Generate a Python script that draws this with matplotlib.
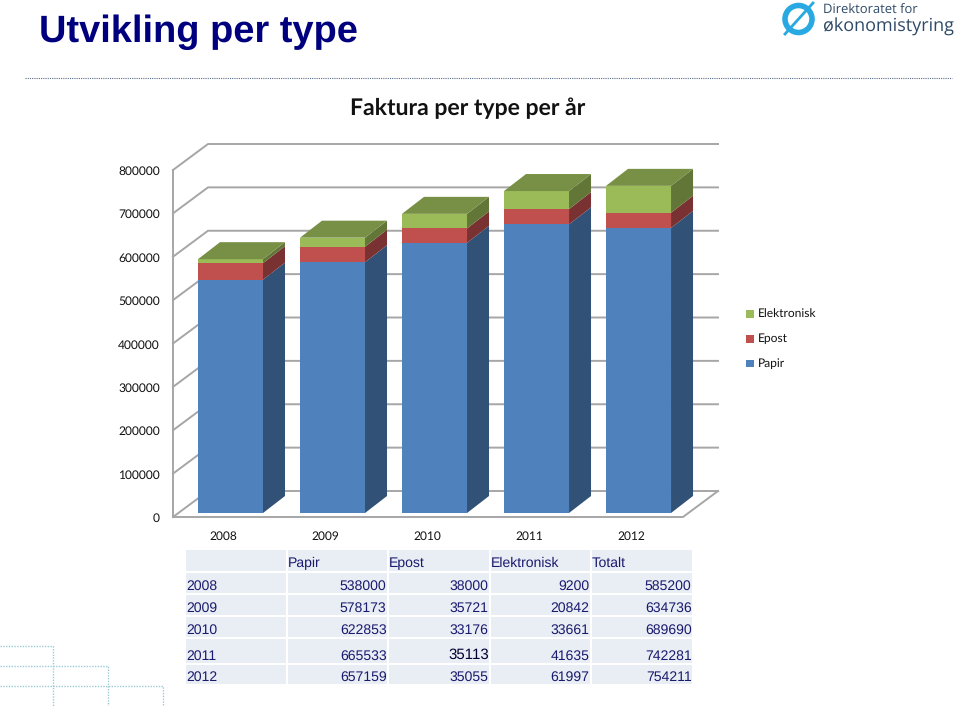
import matplotlib
matplotlib.use('Agg')
import matplotlib.pyplot as plt
from matplotlib.patches import Polygon, Rectangle, Ellipse

years = ['2008', '2009', '2010', '2011', '2012']
papir = [538000, 578173, 622853, 665533, 657159]
epost = [38000, 35721, 33176, 35113, 35055]
elektronisk = [9200, 20842, 33661, 41635, 61997]
totalt = [585200, 634736, 689690, 742281, 754211]
y_ticks = [0, 100000, 200000, 300000, 400000, 500000, 600000, 700000, 800000]
series_names = ['Papir', 'Epost', 'Elektronisk']

W, H = 960, 706
NAVY = '#1A1A6E'
plt.rcParams['font.family'] = ['Liberation Sans', 'DejaVu Sans']
plt.rcParams['text.hinting'] = 'no_hinting'
plt.rcParams['text.hinting_factor'] = 1


def fx(px):
    return px / W


def fy(py):
    return 1 - py / H


def darken(col, f):
    c = matplotlib.colors.to_rgb(col)
    return tuple(v * f for v in c)


fig = plt.figure(figsize=(W / 100, H / 100), dpi=100)

# Page title, logo and dotted rule
fig.text(fx(39), fy(32), 'Utvikling per type', fontsize=27.4, fontweight='bold', color='#00007E', va='center')
fig.add_artist(plt.Line2D([fx(25), fx(952)], [fy(78), fy(78)], color='#5A6C8C', lw=0.8, ls=(0, (1, 1))))
fig.add_artist(Ellipse((fx(798.5), fy(19)), 27 / W, 27 / H, fill=False, ec='#29A9E1', lw=4, transform=fig.transFigure))
fig.add_artist(plt.Line2D([fx(785), fx(813)], [fy(34), fy(3)], color='#29A9E1', lw=2))
fig.text(fx(823), fy(10), 'Direktoratet for', fontsize=9.4, color='#2E4A68', family='Open Sans', va='center')
fig.text(fx(823), fy(27), 'økonomistyring', fontsize=13.2, color='#2E4A68', family='Open Sans', va='center')

# Dotted squares in the bottom left corner
for x1, y0 in [(53, 646), (108, 666), (163, 686)]:
    fig.add_artist(plt.Line2D([0, fx(x1), fx(x1)], [fy(y0), fy(y0), 0], color='#9CCBD8', lw=1, ls=(0, (1, 1))))

# Chart axes, the front wall of the 3D box
ax = fig.add_axes([fx(173), fy(517), fx(510), 347 / H])
x_left = -0.5637
x_right = 4.436
ax.set_xlim(x_left, x_right)
ax.set_ylim(0, 800000)
ax.axis('off')

dx_wall = 35 / 102
dy_wall = 26 / 347 * 800000
dx_bar = 22 / 102
dy_bar = 17 / 347 * 800000
base = 4 / 347 * 800000
half = 32.5 / 102
grid = '#A6A6A6'

for t in y_ticks:
    ax.plot([x_left, x_left + dx_wall, x_right + dx_wall], [t, t + dy_wall, t + dy_wall], color=grid, lw=1.4, clip_on=False, zorder=1)
    ax.text(-0.691, t - 3500, str(t), ha='right', va='center', fontsize=8.7, family='Lato', color='#111111')
ax.plot([x_left, x_left], [0, 800000], color=grid, lw=1.4, clip_on=False, zorder=1)
ax.plot([x_left, x_right, x_right + dx_wall], [0, 0, dy_wall], color=grid, lw=1.4, clip_on=False, zorder=1)

colors = ['#4F81BD', '#C0504D', '#9BBB59']
for i, year in enumerate(years):
    bottom = base
    for vals, col in zip([papir, epost, elektronisk], colors):
        top = bottom + vals[i]
        l, r = i - half, i + half
        ax.add_patch(Rectangle((l, bottom), r - l, vals[i], fc=col, ec='none', zorder=3, clip_on=False))
        ax.add_patch(Polygon([(r, bottom), (r + dx_bar, bottom + dy_bar), (r + dx_bar, top + dy_bar), (r, top)],
                             fc=darken(col, 0.63), ec='none', zorder=3, clip_on=False))
        bottom = top
    ax.add_patch(Polygon([(l, top), (l + dx_bar, top + dy_bar), (r + dx_bar, top + dy_bar), (r, top)],
                         fc=darken(colors[2], 0.77), ec='none', zorder=3, clip_on=False))
    ax.text(i - 0.07, -45000, year, ha='center', va='center', fontsize=8.7, family='Lato', color='#111111')

# Legend
for name, col, py in zip(series_names, colors, [364, 339, 314]):
    fig.add_artist(Rectangle((fx(746), fy(py + 3.5)), 7.5 / W, 7.5 / H, fc=col, ec='none', transform=fig.transFigure))
    fig.text(fx(758), fy(py), name, fontsize=8.9, family='Lato', va='center', color='#111111')

fig.text(fx(468), fy(108), 'Faktura per type per år', fontsize=16.4, fontweight='bold', family='Lato', ha='center', va='center', color='#111111')

# Table under the chart
col_edges = [(186, 286), (288, 387), (389, 489), (491, 590), (592, 692)]
row_edges = [(550, 571), (573, 593), (595, 615), (617, 637), (639, 663), (665, 684)]
header = [''] + series_names + ['Totalt']
rows = [header] + [[str(v) for v in r] for r in zip(years, papir, epost, elektronisk, totalt)]

for r, (y0, y1) in enumerate(row_edges):
    for c, (x0, x1) in enumerate(col_edges):
        fig.add_artist(Rectangle((fx(x0), fy(y1)), (x1 - x0) / W, (y1 - y0) / H, fc='#E9EDF4', ec='none', transform=fig.transFigure))
        txt = rows[r][c]
        if not txt:
            continue
        py = y1 - 7
        if r == 0:
            py = y1 - 7.5
        if r == 0 or c == 0:
            fig.text(fx(x0), fy(py), txt, fontsize=10, color=NAVY, va='center')
        elif txt == '35113':
            fig.text(fx(x1), fy(y1 - 8), txt, fontsize=10.8, color='#000033', ha='right', va='center')
        else:
            fig.text(fx(x1 - 0.5), fy(py), txt, fontsize=10, color=NAVY, ha='right', va='center')

fig.savefig('out.png', dpi=100)
